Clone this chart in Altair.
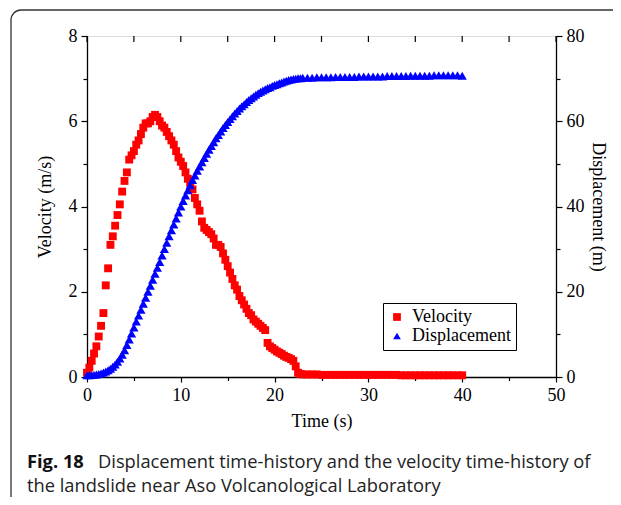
import altair as alt
import pandas as pd

# ---- data ----
# 0 .. 23 s, every 0.25 s
velocity_a = [0.10, 0.22, 0.38, 0.55, 0.72, 0.95, 1.20, 1.50, 2.15, 2.55, 3.10, 3.30,
              3.55, 3.80, 4.05, 4.35, 4.60, 4.80, 5.10, 5.20, 5.30, 5.45, 5.55, 5.70,
              5.85, 5.95, 5.95, 6.00, 6.10, 6.15, 6.10, 6.00, 5.90, 5.85, 5.75, 5.65,
              5.55, 5.45, 5.30, 5.15, 5.05, 4.95, 4.80, 4.65, 4.55, 4.40, 4.20, 4.05,
              3.90, 3.65, 3.50, 3.45, 3.40, 3.35, 3.25, 3.10, 3.10, 3.05, 2.90, 2.75,
              2.60, 2.45, 2.30, 2.15, 2.05, 1.90, 1.80, 1.70, 1.60, 1.50, 1.45, 1.35,
              1.30, 1.25, 1.20, 1.15, 1.10, 0.80, 0.72, 0.68, 0.64, 0.60, 0.57, 0.54,
              0.50, 0.47, 0.45, 0.42, 0.38, 0.25, 0.10, 0.07, 0.06]
displacement_a = [0.40, 0.42, 0.45, 0.50, 0.58, 0.70, 0.85, 1.05, 1.30, 1.60, 1.95, 2.40,
                  2.95, 3.60, 4.35, 5.20, 6.30, 7.50, 8.80, 10.2, 11.6, 13.0, 14.4, 15.8,
                  17.2, 18.6, 20.0, 21.4, 22.8, 24.2, 25.6, 27.0, 28.5, 30.0, 31.5, 33.0,
                  34.4, 35.8, 37.2, 38.6, 40.0, 41.3, 42.6, 43.8, 45.0, 46.2, 47.3, 48.4,
                  49.4, 50.4, 51.4, 52.4, 53.3, 54.2, 55.1, 56.0, 56.8, 57.6, 58.4, 59.1,
                  59.8, 60.5, 61.2, 61.8, 62.4, 63.0, 63.5, 64.0, 64.5, 65.0, 65.4, 65.8,
                  66.2, 66.6, 66.9, 67.2, 67.5, 67.8, 68.0, 68.3, 68.5, 68.7, 68.9, 69.1,
                  69.3, 69.5, 69.7, 69.8, 69.9, 70.0, 70.1, 70.1, 70.2]
# 23.5 .. 40 s, every 0.5 s
velocity_b = [0.06, 0.06, 0.06, 0.05, 0.05, 0.05, 0.05, 0.05, 0.05, 0.05, 0.05, 0.05,
              0.05, 0.05, 0.05, 0.05, 0.05, 0.05, 0.05, 0.05, 0.04, 0.04, 0.04, 0.04,
              0.04, 0.04, 0.04, 0.04, 0.04, 0.04, 0.04, 0.04, 0.04, 0.04]
displacement_b = [70.2, 70.2, 70.3, 70.3, 70.3, 70.3, 70.4, 70.4, 70.4, 70.4, 70.4, 70.5,
                  70.5, 70.5, 70.5, 70.5, 70.5, 70.6, 70.6, 70.6, 70.6, 70.6, 70.7, 70.7,
                  70.7, 70.7, 70.7, 70.8, 70.8, 70.8, 70.8, 70.8, 70.8, 70.7]

time_a = [round(i * 0.25, 2) for i in range(len(velocity_a))]
time_b = [round(23.5 + i * 0.5, 2) for i in range(len(velocity_b))]

series_names = ["Velocity", "Displacement"]
series_colors = ["#ff0000", "#0000ff"]
series_shapes = ["square", "triangle-up"]

x_ticks = [0, 5, 10, 15, 20, 25, 30, 35, 40, 45, 50]
yl_ticks = [0, 1, 2, 3, 4, 5, 6, 7, 8]
yr_ticks = [0, 10, 20, 30, 40, 50, 60, 70, 80]

caption_bold = "Fig. 18"
caption_1 = "Displacement time-history and the velocity time-history of"
caption_2 = "the landslide near Aso Volcanological Laboratory"

df_v = pd.DataFrame({"t": time_a + time_b, "v": velocity_a + velocity_b, "series": "Velocity"})
df_d = pd.DataFrame({"t": time_a + time_b, "d": displacement_a + displacement_b, "series": "Displacement"})
df_top = pd.DataFrame({"t": x_ticks})

W, H = 469, 341
SERIF = "Liberation Serif"
SANS = "Open Sans"
FS = 18
CFS = 18.3

xscale = alt.Scale(domain=[0, 50], nice=False, zero=False)

def tick_cond(mod, big=6, small=4):
    return {"condition": {"test": f"datum.value % {mod} === 0", "value": big}, "value": small}

common_axis = dict(grid=False, domainColor="black", tickColor="black", domainWidth=1.3,
                   tickWidth=1.2, labelFont=SERIF, labelFontSize=FS, labelColor="black",
                   labelFlush=False, labelOverlap=False,
                   titleFont=SERIF, titleFontSize=FS, titleFontWeight="normal", titleColor="black")

x_axis = alt.Axis(title="Time (s)", values=x_ticks,
                  labelExpr="datum.value % 10 === 0 ? datum.label : ''",
                  tickSize=tick_cond(10, 5, 3.5), labelPadding=4, titlePadding=8,
                  **common_axis)
x_enc = alt.X("t:Q", scale=xscale, axis=x_axis)

legend = alt.Legend(title=None, orient="none", legendX=296, legendY=267,
                    strokeColor="black", fillColor="white", padding=5,
                    labelFont=SERIF, labelFontSize=FS, labelColor="black",
                    symbolSize=60, rowPadding=1, labelOffset=6)
color = alt.Color("series:N", scale=alt.Scale(domain=series_names, range=series_colors),
                  legend=legend)
shape = alt.Shape("series:N", scale=alt.Scale(domain=series_names, range=series_shapes),
                  legend=legend)

vel = alt.Chart(df_v).mark_point(filled=True, size=62, opacity=1, strokeWidth=0).encode(
    x=x_enc,
    y=alt.Y("v:Q", scale=alt.Scale(domain=[0, 8], nice=False),
            axis=alt.Axis(title="Velocity (m/s)", orient="left", values=yl_ticks,
                          labelExpr="datum.value % 2 === 0 ? datum.label : ''",
                          tickSize=tick_cond(2), labelPadding=4, titlePadding=14,
                          **common_axis)),
    color=color, shape=shape)

disp = alt.Chart(df_d).mark_point(filled=True, size=85, opacity=1, strokeWidth=0).encode(
    x=x_enc,
    y=alt.Y("d:Q", scale=alt.Scale(domain=[0, 80], nice=False),
            axis=alt.Axis(title="Displacement (m)", orient="right", values=yr_ticks,
                          labelExpr="datum.value % 20 === 0 ? datum.label : ''",
                          tickSize=tick_cond(20), labelPadding=4, titlePadding=4,
                          **common_axis)),
    color=color, shape=shape)

# inward ticks along the top edge
top_ticks = alt.Chart(df_top).mark_rule(color="black", strokeWidth=1.2).encode(
    x=x_enc, y=alt.value(0), y2=alt.value(6))

frame = alt.Chart(alt.Data(values=[{}])).mark_rect(
    fill="white", fillOpacity=0, stroke="#333333", strokeWidth=1.3, cornerRadius=10).encode(
    x=alt.value(-76), x2=alt.value(560), y=alt.value(-26), y2=alt.value(500))

cap_b = alt.Chart(pd.DataFrame({"txt": [caption_bold]})).mark_text(
    font=SANS, fontSize=CFS, fontWeight="bold", align="left",
    baseline="alphabetic", color="#111111").encode(
    text="txt:N", x=alt.value(-60), y=alt.value(432))
cap_1 = alt.Chart(pd.DataFrame({"txt": [caption_1]})).mark_text(
    font=SANS, fontSize=CFS, align="left", baseline="alphabetic", color="#222222").encode(
    text="txt:N", x=alt.value(11), y=alt.value(432))
cap_2 = alt.Chart(pd.DataFrame({"txt": [caption_2]})).mark_text(
    font=SANS, fontSize=CFS, align="left", baseline="alphabetic", color="#222222").encode(
    text="txt:N", x=alt.value(-60), y=alt.value(456))

chart = alt.layer(frame, vel, disp, top_ticks, cap_b, cap_1, cap_2).resolve_scale(
    y="independent").properties(
    width=W, height=H,
    autosize=alt.AutoSizeParams(type="none"),
    padding={"left": 79, "top": 28, "right": 57, "bottom": 120},
).configure_view(stroke="black", strokeWidth=1.3).configure(background="white")

chart.save("out.html", embed_options={"renderer": "svg", "actions": False})
